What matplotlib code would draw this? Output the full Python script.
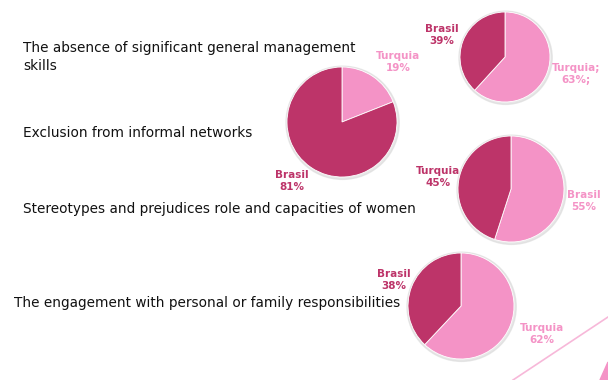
import numpy as np
import matplotlib.pyplot as plt
from matplotlib.patches import Circle, Polygon

dark = '#bd3469'
light = '#f493c6'

# left side questions
questions = ['The absence of significant general management\nskills',
             'Exclusion from informal networks',
             'Stereotypes and prejudices role and capacities of women',
             'The engagement with personal or family responsibilities']

# each pie: slice names and values (first slice drawn clockwise from 12 o'clock)
pie1_names = ['Turquia', 'Brasil']
pie1_vals = [19, 81]
pie2_names = ['Turquia;', 'Brasil']
pie2_vals = [63, 39]
pie3_names = ['Brasil', 'Turquia']
pie3_vals = [55, 45]
pie4_names = ['Turquia', 'Brasil']
pie4_vals = [62, 38]

W, H = 608, 380
fig = plt.figure(figsize=(W / 100, H / 100), dpi=100)
ax = fig.add_axes([0, 0, 1, 1])

def py(y):
   return H - y

def draw_pie(names, vals, cx, cy, r, lab_pos, suffix=('', '')):
   ax.add_patch(Circle((cx + 0.6, py(cy) - 0.8), r + 1.6, color='#d9d9d9', alpha=0.6, zorder=1))
   ax.pie(vals, colors=[light, dark], startangle=90, counterclock=False,
          center=(cx, py(cy)), radius=r, frame=True,
          wedgeprops=dict(edgecolor='white', linewidth=0.6, zorder=2))
   for name, v, col, (lx, ly), s in zip(names, vals, [light, dark], lab_pos, suffix):
      ax.text(lx, py(ly), f'{name}\n{v}%{s}', color=col, ha='center', va='center',
              fontsize=7.5, fontweight='bold', family='DejaVu Sans', linespacing=1.15, zorder=3)

draw_pie(pie1_names, pie1_vals, 342, 122, 55, [(398, 62), (292, 181)])
draw_pie(pie2_names, pie2_vals, 505, 57, 45, [(576, 74), (442, 35)], suffix=(';', ''))
draw_pie(pie3_names, pie3_vals, 511, 189, 53, [(584, 201), (438, 177)])
draw_pie(pie4_names, pie4_vals, 461, 306, 53, [(542, 334), (394, 280)])

# question texts
q_pos = [(23, 57), (23, 133), (23, 209), (14, 303)]
for q, (x, y) in zip(questions, q_pos):
   ax.text(x, py(y), q, color='#111111', fontsize=9.85, ha='left', va='center',
           family='DejaVu Sans', linespacing=1.3)

# decorative lines in the corner
ax.plot([513, 608], [py(380), py(317)], color='#f7b8d9', lw=1.2)
ax.add_patch(Polygon([[600, py(380)], [608, py(362)], [608, py(380)]], color='#f493c6'))

ax.set_xlim(0, W)
ax.set_ylim(0, H)
ax.axis('off')
plt.savefig('out.png', dpi=100)
